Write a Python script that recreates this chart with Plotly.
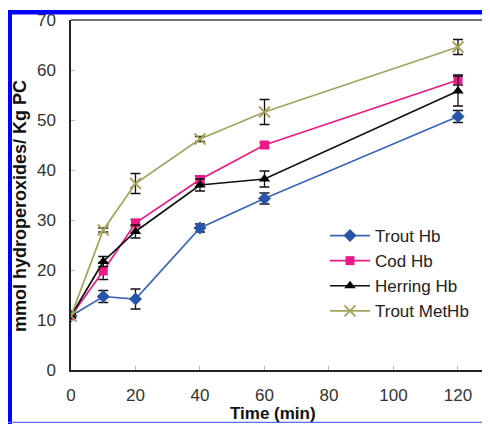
import plotly.graph_objects as go

time_min = [0, 10, 20, 40, 60, 120]
series_names = ["Trout Hb", "Cod Hb", "Herring Hb", "Trout MetHb"]
trout_hb = [10.8, 14.7, 14.2, 28.4, 34.3, 50.7]
trout_hb_err = [0.4, 1.2, 2.0, 0.8, 1.1, 1.2]
cod_hb = [10.8, 19.8, 29.4, 38.1, 45.0, 58.0]
cod_hb_err = [0.4, 1.7, 0.7, 0.7, 0.5, 1.0]
herring_hb = [10.8, 21.7, 27.7, 37.0, 38.2, 55.8]
herring_hb_err = [0.4, 1.0, 1.3, 1.2, 1.6, 3.0]
trout_methb = [10.8, 28.0, 37.3, 46.2, 51.6, 64.6]
trout_methb_err = [0.4, 0.4, 2.0, 0.5, 2.5, 1.5]

x_ticks = [0, 20, 40, 60, 80, 100, 120]
y_ticks = [0, 10, 20, 30, 40, 50, 60, 70]
x_title = "Time (min)"
y_title = "mmol hydroperoxides/ Kg PC"

FONT = "Liberation Sans, Arial, sans-serif"

styles = [
    dict(color="#3a66b8", mcolor="#2855a8", symbol="diamond", size=10),
    dict(color="#ec1a86", mcolor="#ec1a86", symbol="square", size=9),
    dict(color="#111111", mcolor="#000000", symbol="triangle-up", size=10),
    dict(color="#a3a35e", mcolor="#a3a35e", symbol="x-thin", size=11),
]
values = [trout_hb, cod_hb, herring_hb, trout_methb]
errors = [trout_hb_err, cod_hb_err, herring_hb_err, trout_methb_err]

fig = go.Figure()
for name, yv, ev, st in zip(series_names, values, errors, styles):
    marker = dict(symbol=st["symbol"], size=st["size"], color=st["mcolor"])
    if st["symbol"] == "x-thin":
        marker["line"] = dict(color=st["mcolor"], width=1.8)
    fig.add_trace(go.Scatter(
        x=time_min, y=yv, name=name, mode="lines+markers",
        line=dict(color=st["color"], width=1.7),
        marker=marker,
        legendgroup=name,
        error_y=dict(type="data", array=ev, visible=True, color="#111111",
                     thickness=1.3, width=5),
    ))

# page has an 8px body margin; figure coordinates are page coords - 8
L, R, T, B = 63, 3, 12, 54
W, H = 482, 416
pw, ph = W - L - R, H - T - B


def xp(px):
    return (px - L) / pw


def yp(py):
    return (H - B - py) / ph


blue = "#0000ff"
shapes = [
    dict(type="line", xref="paper", yref="paper", x0=0, x1=1, y0=1, y1=1,
         line=dict(color="#444444", width=1.5)),
    dict(type="rect", xref="paper", yref="paper", x0=xp(0), x1=xp(4), y0=yp(416), y1=yp(2),
         fillcolor=blue, line=dict(width=0), layer="above"),
    dict(type="rect", xref="paper", yref="paper", x0=xp(0), x1=xp(482), y0=yp(6.5), y1=yp(2),
         fillcolor=blue, line=dict(width=0), layer="above"),
    dict(type="rect", xref="paper", yref="paper", x0=xp(479), x1=xp(480.2), y0=yp(416), y1=yp(2),
         fillcolor="#5a6cf0", line=dict(width=0), layer="above"),
    dict(type="rect", xref="paper", yref="paper", x0=xp(0), x1=xp(482), y0=yp(415), y1=yp(413.8),
         fillcolor="#5a6cf0", line=dict(width=0), layer="above"),
]

annotations = [
    dict(text="<b>" + y_title + "</b>", xref="paper", yref="paper",
         x=xp(12), y=yp(198), xanchor="center", yanchor="middle", textangle=-90,
         showarrow=False, font=dict(family=FONT, size=18, color="#111111")),
    dict(text="<b>" + x_title + "</b>", xref="paper", yref="paper",
         x=xp(265), y=yp(394), xanchor="center", yanchor="top",
         showarrow=False, font=dict(family=FONT, size=17, color="#111111")),
]

fig.update_layout(
    width=W, height=H,
    margin=dict(l=L, r=R, t=T, b=B),
    paper_bgcolor="white", plot_bgcolor="white",
    font=dict(family=FONT, size=17, color="#333333"),
    showlegend=True,
    legend=dict(x=xp(317), y=yp(210), xanchor="left", yanchor="top",
                font=dict(family=FONT, size=17, color="#222222"),
                bgcolor="rgba(0,0,0,0)", traceorder="grouped", tracegroupgap=0,
                itemwidth=40),
    xaxis=dict(range=[0, 129], tickvals=x_ticks, ticktext=[str(v) for v in x_ticks],
               showgrid=False, zeroline=False, showline=True, linecolor="#222222",
               linewidth=1.5, ticks="inside", ticklen=4, tickcolor="#bbbbbb",
               ticklabelstandoff=9,
               tickfont=dict(family=FONT, size=17, color="#333333")),
    yaxis=dict(range=[0, 70], tickvals=y_ticks, ticktext=[str(v) for v in y_ticks],
               showgrid=False, zeroline=False, showline=True, linecolor="#222222",
               linewidth=1.5, ticks="inside", ticklen=4, tickcolor="#bbbbbb",
               ticklabelstandoff=10,
               tickfont=dict(family=FONT, size=17, color="#333333")),
    shapes=shapes,
    annotations=annotations,
)

fig.write_html("out.html")
